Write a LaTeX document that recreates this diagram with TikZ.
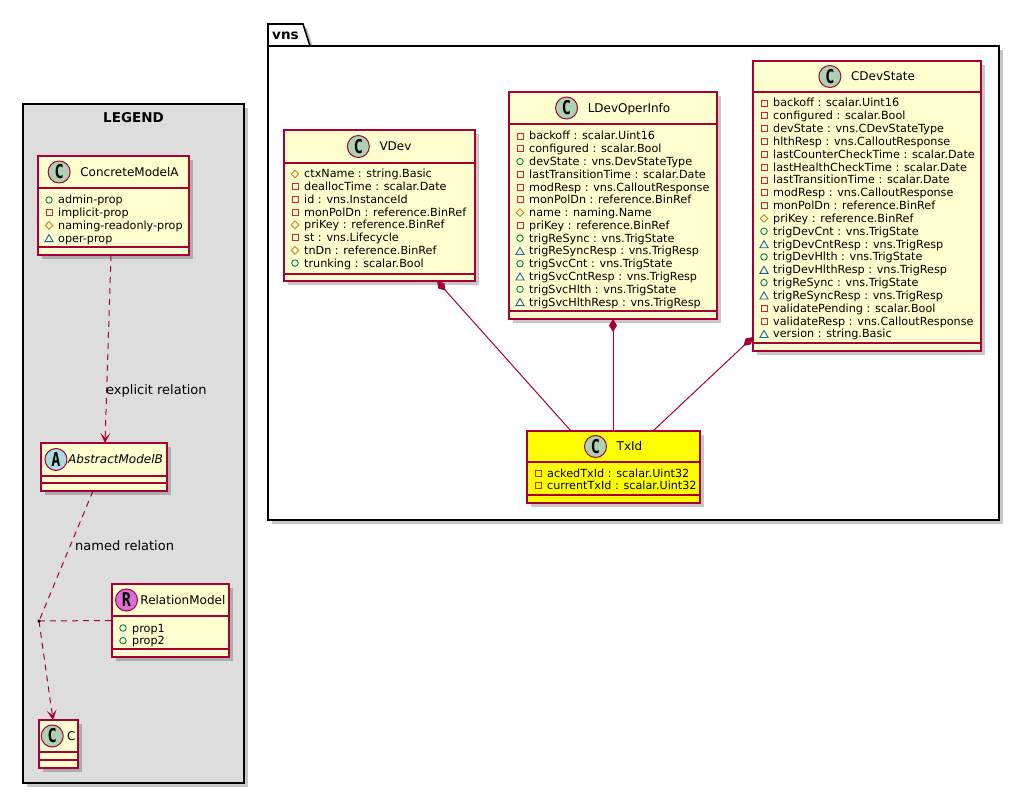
\documentclass[tikz,border=0pt]{standalone}
\usepackage{fontspec}
\usepackage{graphicx}
\setmainfont{DejaVu Sans}
\newfontfamily\spotfont{DejaVu Sans Mono}
\usetikzlibrary{arrows.meta,shapes.geometric,shadows}
\definecolor{umlred}{HTML}{A80036}
\definecolor{clsfill}{HTML}{FEFECE}
\definecolor{spotC}{HTML}{ADD1B2}
\definecolor{spotA}{HTML}{A9DCDF}
\definecolor{spotR}{HTML}{DA70D6}
\definecolor{legbg}{HTML}{DDDDDD}
\definecolor{txfill}{HTML}{FFFF00}
\definecolor{pubcol}{HTML}{038048}
\definecolor{privcol}{HTML}{C82930}
\definecolor{protcol}{HTML}{B38D22}
\definecolor{pkgcol}{HTML}{1963A0}
\tikzset{
  shad/.style={drop shadow={shadow xshift=4pt,shadow yshift=-4pt,fill=black,opacity=0.22}},
  cls/.style={rectangle,draw=umlred,fill=clsfill,line width=1.4pt,inner sep=0pt,outer sep=0pt,shad},
  clsline/.style={draw=umlred,line width=1.4pt},
  spot/.style={circle,draw=umlred,line width=1pt,minimum size=22pt,inner sep=0pt,
    font=\spotfont\bfseries\fontsize{19}{19}\selectfont},
  cname/.style={inner sep=0pt,anchor=base,font=\fontsize{12}{14}\selectfont},
  attr/.style={inner sep=0pt,anchor=base west,font=\fontsize{11.2}{13}\selectfont},
  pubI/.style={circle,draw=pubcol,minimum size=6.5pt,inner sep=0pt,line width=0.9pt},
  privI/.style={rectangle,draw=privcol,minimum size=6pt,inner sep=0pt,line width=0.9pt},
  protI/.style={diamond,draw=protcol,minimum size=8pt,inner sep=0pt,line width=0.9pt},
  pkgI/.style={regular polygon,regular polygon sides=3,draw=pkgcol,minimum size=9.5pt,inner sep=0pt,line width=0.9pt,yshift=-1.2pt},
  dep/.style={draw=umlred,line width=1pt,dash pattern=on 6pt off 5pt,-{Stealth[length=10pt,width=10pt,inset=5pt]}},
  depline/.style={draw=umlred,line width=1pt,dash pattern=on 6pt off 5pt},
  comp/.style={draw=umlred,line width=1pt,{Diamond[length=13pt,width=8pt]}-},
  lbl/.style={inner sep=0pt,font=\fontsize{13}{15}\selectfont},
  ttl/.style={inner sep=0pt,font=\bfseries\fontsize{13.5}{16}\selectfont},
  frame/.style={rectangle,draw=black,line width=1.6pt,inner sep=0pt,outer sep=0pt,shad},
}
\newcommand{\clsbox}[6]{\node[cls,#6,minimum width={#4-#2},minimum height={#5-#3}] (#1) at ({(#2+#4)/2},{(#3+#5)/2}) {};}
\newcommand{\clssep}[2]{\draw[clsline] (#1.west |- 0,#2) -- (#1.east |- 0,#2);}
\newcommand{\clshead}[6]{%
  \path (#1.center |- 0,#5) coordinate (#1-hc);
  \node[cname] (#1-name) at ([xshift=#6pt,yshift=-4.3pt]#1-hc) {#4};
  \node[spot,fill=#3] (#1-spot) at ([xshift={-(2*#6-11)*1pt}]#1-name.west |- #1-hc) {\scalebox{0.8}[1]{#2}};
}
\newcommand{\clsattrs}[5]{%
  \foreach \ic/\tx [count=\i] in {#5}{%
    \node[\ic] (#1-i\i) at ({#2+11},{#3+(\i-1)*#4}) {};
    \node[attr] (#1-a\i) at ({#2+20},{#3+(\i-1)*#4+4}) {\tx};
  }%
}
\begin{document}
\begin{tikzpicture}[x=1pt,y=-1pt]
\useasboundingbox (0,0) rectangle (1032,810);
% ---------- LEGEND ----------
\node[frame,fill=legbg,minimum width=221,minimum height=679] (legend) at (133.5,443.5) {};
\node[ttl] (legend-title) at (133.5,118) {LEGEND};

\clsbox{cma}{38}{156}{189}{255}{}
\clssep{cma}{188}\clssep{cma}{247}
\clshead{cma}{C}{spotC}{ConcreteModelA}{172}{16}
\clsattrs{cma}{38}{200}{12.7}{pubI/admin-prop,privI/implicit-prop,protI/naming-readonly-prop,pkgI/oper-prop}

\clsbox{amb}{41}{443}{167}{491}{}
\clssep{amb}{476}\clssep{amb}{483}
\clshead{amb}{A}{spotA}{\itshape AbstractModelB}{459.5}{11.5}

\clsbox{rel}{112}{584}{229}{657}{}
\clssep{rel}{616}\clssep{rel}{649}
\clshead{rel}{R}{spotR}{RelationModel}{600}{12.4}
\clsattrs{rel}{112}{628}{12.7}{pubI/prop1,pubI/prop2}

\clsbox{cc}{39}{720}{78}{768}{}
\clssep{cc}{752}\clssep{cc}{760}
\clshead{cc}{C}{spotC}{C}{736}{12.9}

\coordinate (dotc) at (39,621);
\draw[dep] ([xshift=73pt]cma.south west) -- ([xshift=64pt]amb.north west);
\node[lbl,anchor=west] (lbl-explicit) at (106,391) {explicit relation};
\draw[depline] ([xshift=52pt]amb.south west) -- (dotc);
\node[lbl,anchor=west] (lbl-named) at (75,546) {named relation};
\draw[depline] (dotc) -- (rel.west);
\draw[dep] (dotc) -- ([xshift=14pt]cc.north west);
\node[circle,fill=black,inner sep=0pt,minimum size=3.5pt] (dot) at (dotc) {};

% ---------- vns package ----------
\path[fill=white,shad] (268,46) -- (268,24) -- (303,24) -- (310,46) -- cycle;
\node[frame,fill=white,minimum width=731,minimum height=474] (vns) at (633.5,283) {};
\draw[black,line width=1.6pt] (vns.north west) -- ++(0,-22) -- ++(35,0) -- ++(7,22);
\node[ttl,anchor=west] (vns-title) at (272,36) {vns};

\clsbox{vdev}{284}{130}{475}{281}{}
\clssep{vdev}{163}\clssep{vdev}{274}
\clshead{vdev}{C}{spotC}{VDev}{146.5}{16}
\clsattrs{vdev}{284}{174}{12.72}{protI/ctxName : string.Basic,privI/deallocTime : scalar.Date,privI/id : vns.InstanceId,privI/monPolDn : reference.BinRef,protI/priKey : reference.BinRef,privI/st : vns.Lifecycle,protI/tnDn : reference.BinRef,pubI/trunking : scalar.Bool}

\clsbox{ldev}{509}{92}{717}{319}{}
\clssep{ldev}{124}\clssep{ldev}{311}
\clshead{ldev}{C}{spotC}{LDevOperInfo}{108}{16}
\clsattrs{ldev}{509}{136}{12.77}{privI/backoff : scalar.Uint16,privI/configured : scalar.Bool,pubI/devState : vns.DevStateType,privI/lastTransitionTime : scalar.Date,privI/modResp : vns.CalloutResponse,privI/monPolDn : reference.BinRef,protI/name : naming.Name,privI/priKey : reference.BinRef,pubI/trigReSync : vns.TrigState,pkgI/trigReSyncResp : vns.TrigResp,pubI/trigSvcCnt : vns.TrigState,pkgI/trigSvcCntResp : vns.TrigResp,pubI/trigSvcHlth : vns.TrigState,pkgI/trigSvcHlthResp : vns.TrigResp}

\clsbox{cdev}{753}{61}{981}{351}{}
\clssep{cdev}{92}\clssep{cdev}{343}
\clshead{cdev}{C}{spotC}{CDevState}{76.5}{16}
\clsattrs{cdev}{753}{103}{12.83}{privI/backoff : scalar.Uint16,privI/configured : scalar.Bool,privI/devState : vns.CDevStateType,privI/hlthResp : vns.CalloutResponse,privI/lastCounterCheckTime : scalar.Date,privI/lastHealthCheckTime : scalar.Date,privI/lastTransitionTime : scalar.Date,privI/modResp : vns.CalloutResponse,privI/monPolDn : reference.BinRef,protI/priKey : reference.BinRef,pubI/trigDevCnt : vns.TrigState,pkgI/trigDevCntResp : vns.TrigResp,pubI/trigDevHlth : vns.TrigState,pkgI/trigDevHlthResp : vns.TrigResp,pubI/trigReSync : vns.TrigState,pkgI/trigReSyncResp : vns.TrigResp,privI/validatePending : scalar.Bool,privI/validateResp : vns.CalloutResponse,pkgI/version : string.Basic}

\clsbox{txid}{527}{431}{700}{503}{fill=txfill}
\clssep{txid}{462}\clssep{txid}{495}
\clshead{txid}{C}{spotC}{TxId}{446.5}{16}
\clsattrs{txid}{527}{473}{12.9}{privI/ackedTxId : scalar.Uint32,privI/currentTxId : scalar.Uint32}

\draw[comp] ([xshift=153pt]vdev.south west) -- ([xshift=44pt]txid.north west);
\draw[comp] (ldev.south) -- (ldev.south |- txid.north);
\draw[comp] ([yshift=14pt]cdev.south west) -- ([xshift=126pt]txid.north west);
\end{tikzpicture}
\end{document}
